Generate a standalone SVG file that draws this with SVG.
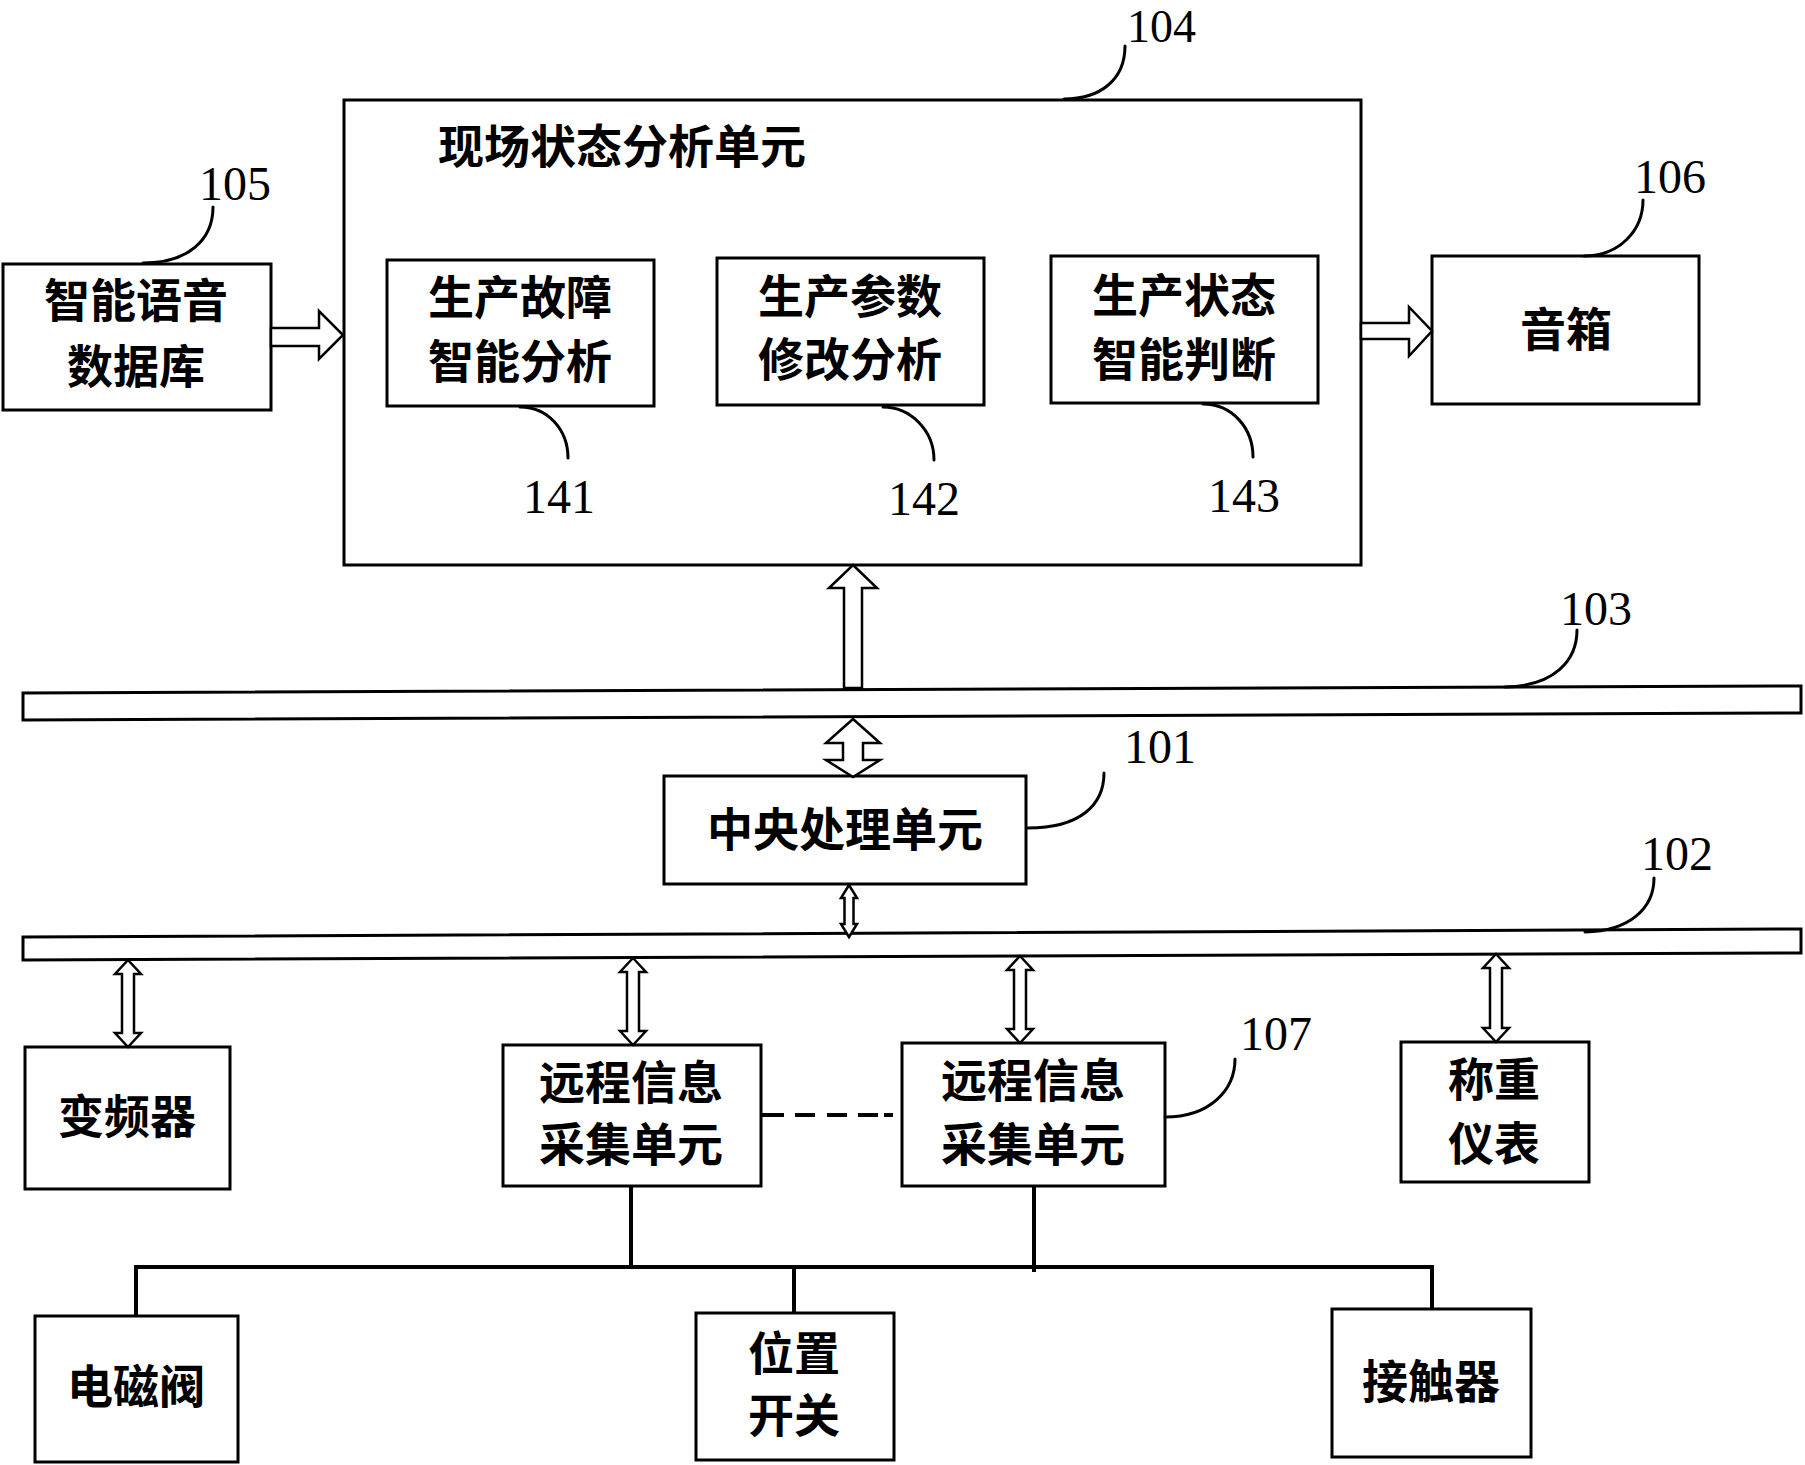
<svg xmlns="http://www.w3.org/2000/svg" width="1805" height="1465" viewBox="0 0 1805 1465">
<style>
.box{fill:#fff;stroke:#000;stroke-width:3}
.arr{fill:#fff;stroke:#000;stroke-width:2.5;stroke-linejoin:miter}
.ln{fill:none;stroke:#000;stroke-width:3}
.ld{fill:none;stroke:#000;stroke-width:3;stroke-linecap:round}
.t{font-family:"Noto Sans CJK SC","Noto Sans CJK TC",sans-serif;font-size:46px;font-weight:700;text-anchor:middle;fill:#000}
.n{font-family:"Liberation Serif",serif;font-size:48px;fill:#000}
</style>
<rect width="1805" height="1465" fill="#fff"/>
<g id="bus103"><polygon class="box" points="23,693 1801,686 1801,713 23,720"/><text class="n" x="1560" y="625">103</text></g>
<g id="bus102"><polygon class="box" points="23,937 1801,929 1801,953 23,960"/><text class="n" x="1641" y="870">102</text></g>
<g id="n105"><rect class="box" x="3" y="264" width="268" height="146"/><text class="t" x="136" y="317">智能语音</text><text class="t" x="136" y="383">数据库</text><text class="n" x="199" y="200">105</text></g>
<g id="n104"><rect class="box" x="344" y="100" width="1017" height="465"/><text class="t" x="622" y="163">现场状态分析单元</text><text class="n" x="1127" y="42" style="font-size:46px">104</text></g>
<g id="n141"><rect class="box" x="387" y="260" width="267" height="146"/><text class="t" x="520" y="314">生产故障</text><text class="t" x="520" y="378">智能分析</text><text class="n" x="523" y="513">141</text></g>
<g id="n142"><rect class="box" x="717" y="258" width="267" height="147"/><text class="t" x="850" y="313">生产参数</text><text class="t" x="850" y="376">修改分析</text><text class="n" x="888" y="515">142</text></g>
<g id="n143"><rect class="box" x="1051" y="256" width="267" height="147"/><text class="t" x="1184" y="312">生产状态</text><text class="t" x="1184" y="376">智能判断</text><text class="n" x="1208" y="512">143</text></g>
<g id="n106"><rect class="box" x="1432" y="256" width="267" height="148"/><text class="t" x="1566" y="346">音箱</text><text class="n" x="1634" y="193">106</text></g>
<g id="n101"><rect class="box" x="664" y="776" width="362" height="108"/><text class="t" x="845" y="846">中央处理单元</text><text class="n" x="1124" y="763">101</text></g>
<g id="nvfd"><rect class="box" x="25" y="1047" width="205" height="142"/><text class="t" x="127" y="1133">变频器</text></g>
<g id="nrem1"><rect class="box" x="503" y="1045" width="258" height="141"/><text class="t" x="631" y="1099">远程信息</text><text class="t" x="631" y="1161">采集单元</text></g>
<g id="n107"><rect class="box" x="902" y="1043" width="263" height="143"/><text class="t" x="1033" y="1097">远程信息</text><text class="t" x="1033" y="1161">采集单元</text><text class="n" x="1240" y="1050">107</text></g>
<g id="nscale"><rect class="box" x="1401" y="1042" width="188" height="140"/><text class="t" x="1494" y="1096">称重</text><text class="t" x="1494" y="1160">仪表</text></g>
<g id="nvalve"><rect class="box" x="35" y="1316" width="203" height="146"/><text class="t" x="136" y="1403">电磁阀</text></g>
<g id="nswitch"><rect class="box" x="696" y="1313" width="198" height="147"/><text class="t" x="794" y="1370">位置</text><text class="t" x="794" y="1432">开关</text></g>
<g id="ncont"><rect class="box" x="1332" y="1309" width="199" height="148"/><text class="t" x="1431" y="1398">接触器</text></g>
<g id="connectors">
<path class="arr" d="M271,328 L319,328 L319,311 L343,335 L319,359 L319,346 L271,346 Z"/>
<path class="arr" d="M1361,323 L1409,323 L1409,307 L1432,331 L1409,356 L1409,339 L1361,339 Z"/>
<path class="arr" d="M853,565 L877,588 L862,588 L862,688 L844,688 L844,588 L829,588 Z"/>
<path class="arr" d="M853,719 L880,743 L863,743 L863,760 L880,760 L853,777 L826,760 L843,760 L843,743 L826,743 Z"/>
<path class="arr" d="M849,885 L857,898 L853.5,898 L853.5,924 L857,924 L849,937 L841,924 L844.5,924 L844.5,898 L841,898 Z"/>
<path class="arr" d="M128,960 L141,974 L134,974 L134,1033 L141,1033 L128,1047 L115,1033 L122,1033 L122,974 L115,974 Z"/>
<path class="arr" d="M633,958 L646,972 L639,972 L639,1031 L646,1031 L633,1045 L620,1031 L627,1031 L627,972 L620,972 Z"/>
<path class="arr" d="M1020,956 L1033,970 L1026,970 L1026,1029 L1033,1029 L1020,1043 L1007,1029 L1014,1029 L1014,970 L1007,970 Z"/>
<path class="arr" d="M1496,954 L1509,968 L1502,968 L1502,1028 L1509,1028 L1496,1042 L1483,1028 L1490,1028 L1490,968 L1483,968 Z"/>
<path class="ln" style="stroke-width:4" d="M631,1186 V1268 M1034,1186 V1272 M136,1316 V1267 H1432 V1309 M794,1267 V1313"/>
<path class="ln" style="stroke-width:4" d="M762,1115 H784 M795,1115 H815 M827,1115 H847 M858,1115 H878 M884,1115 H893"/>
<path class="ld" d="M1125,46 C1125,80 1100,99 1064,99"/>
<path class="ld" d="M213,207 C213,240 188,263 143,263"/>
<path class="ld" d="M1643,200 C1643,230 1620,256 1584,256"/>
<path class="ld" d="M520,407 C548,407 568,430 568,458"/>
<path class="ld" d="M883,407 C910,407 934,430 934,460"/>
<path class="ld" d="M1203,404 C1232,404 1253,428 1253,457"/>
<path class="ld" d="M1577,630 C1577,660 1555,686 1505,687"/>
<path class="ld" d="M1104,773 C1104,805 1080,828 1028,828"/>
<path class="ld" d="M1654,878 C1654,908 1630,931 1585,932"/>
<path class="ld" d="M1235,1059 C1235,1090 1210,1117 1165,1117"/>
</g>
</svg>
